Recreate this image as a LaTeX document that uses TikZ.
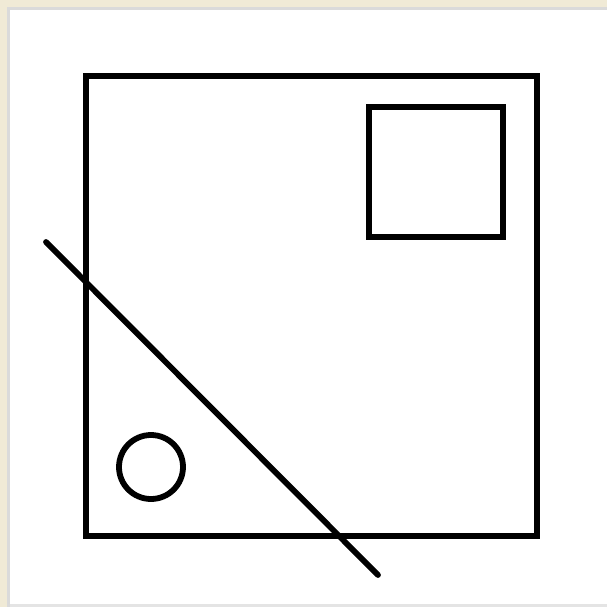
\documentclass[tikz,border=0pt]{standalone}
\definecolor{framebeige}{RGB}{240,234,214}
\definecolor{framegrey}{RGB}{218,218,218}
\definecolor{framelight}{RGB}{228,228,228}
\begin{document}
\begin{tikzpicture}[x=1pt,y=-1pt,
  mainline/.style={draw=black,line width=5.8pt}]
\useasboundingbox (0,0) rectangle (607,607);
\fill[white] (0,0) rectangle (607,607);
\fill[framebeige] (0,0) rectangle (607,7);
\fill[framebeige] (0,0) rectangle (7,607);
\fill[framegrey] (7,7) rectangle (607,10);
\fill[framegrey] (7,7) rectangle (10,607);
\fill[framelight] (10,604) rectangle (607,607);
\draw[mainline] (86,76) rectangle (537,536);
\draw[mainline] (369,107) rectangle (503,237);
\node[mainline,circle,minimum size=64pt,inner sep=0pt] (c) at (151,467) {};
\coordinate (p1) at (46,242);
\coordinate (p2) at (378,575);
\draw[mainline,line cap=round] (p1) -- (p2);
\end{tikzpicture}
\end{document}
